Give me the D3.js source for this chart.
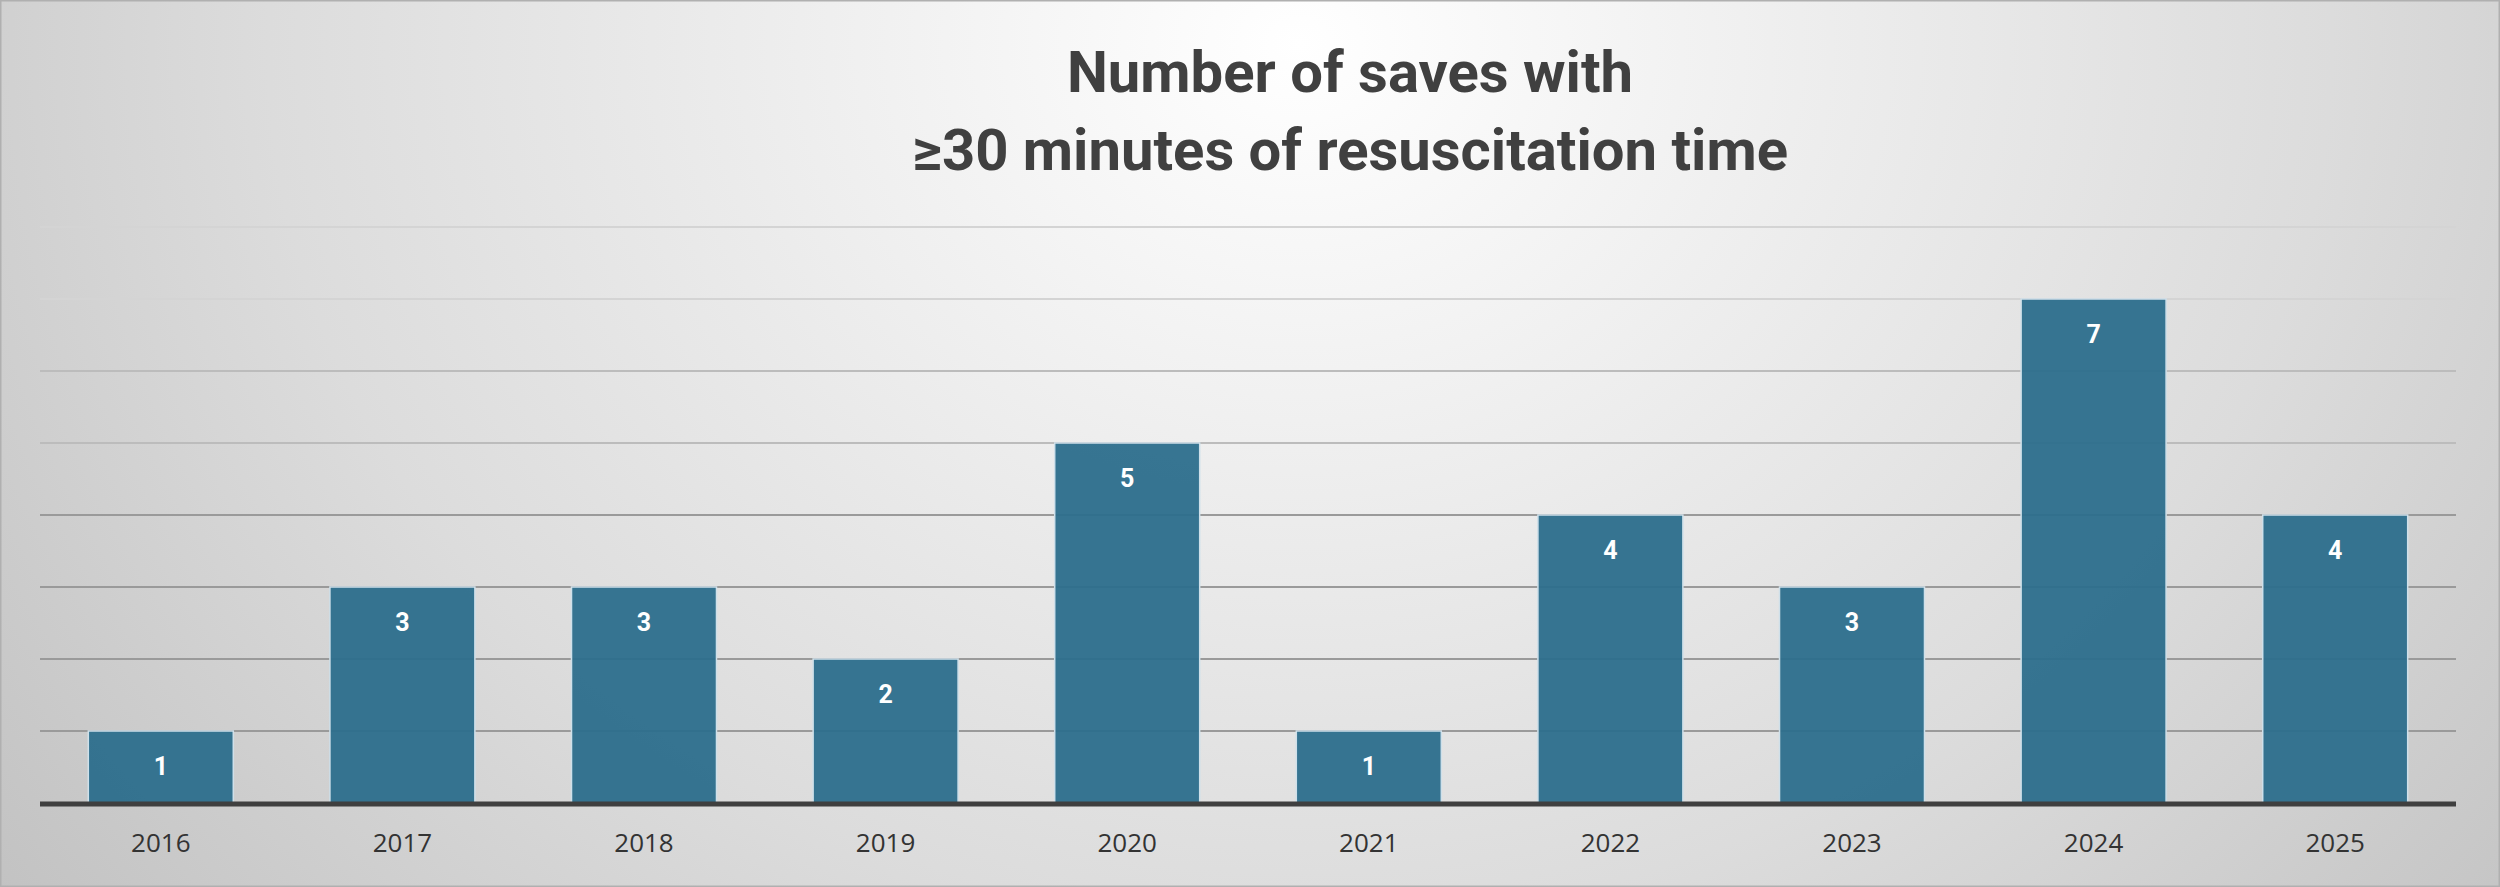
<!DOCTYPE html>
<html><head><meta charset="utf-8">
<script src="https://cdn.jsdelivr.net/npm/d3@7"></script>
<style>body{margin:0;overflow:hidden}</style></head>
<body><svg id="c" width="2500" height="887"></svg>
<script>
const years = ["2016","2017","2018","2019","2020","2021","2022","2023","2024","2025"];
const saves = [1,3,3,2,5,1,4,3,7,4];
const yTicks = [1,2,3,4,5,6,7,8];
const titleLines = ["Number of saves with","≥30 minutes of resuscitation time"];

const svg = d3.select("#c");
const defs = svg.append("defs");
const g = defs.append("radialGradient").attr("id","bg").attr("cx","0.52").attr("cy","0.05").attr("r","0.75")
  .attr("gradientTransform","translate(0.52,0.05) scale(1,2.4) translate(-0.52,-0.05)");
g.append("stop").attr("offset","0").attr("stop-color","#ffffff");
g.append("stop").attr("offset","0.55").attr("stop-color","#dcdcdc");
g.append("stop").attr("offset","1").attr("stop-color","#b8b8b8");
svg.append("rect").attr("width",2500).attr("height",887).attr("fill","url(#bg)");
svg.append("rect").attr("x",0.5).attr("y",0.5).attr("width",2499).attr("height",886).attr("fill","none").attr("stroke","#b0b0b0").attr("stroke-width",2);

const x = d3.scaleBand().domain(years).range([40,2456]).paddingInner(0.4).paddingOuter(0.2);
const y = d3.scaleLinear().domain([0,8]).range([803,227]);
const gx0 = 40, gx1 = 2456;

svg.append("g").selectAll("line").data(yTicks).join("line")
  .attr("x1",gx0).attr("x2",gx1).attr("y1",d=>y(d)).attr("y2",d=>y(d))
  .attr("stroke",d=> d>=7 ? "#d4d4d4" : (d>=5 ? "#bcbcbc" : "#9a9a9a")).attr("stroke-width",2);

svg.append("g").selectAll("rect").data(saves).join("rect")
  .attr("x",(d,i)=>x(years[i])).attr("width",x.bandwidth())
  .attr("y",d=>y(d)).attr("height",d=>y(0)-y(d))
  .attr("fill","#2c6e8c").attr("fill-opacity",0.95).attr("stroke","#cfe0ea").attr("stroke-width",1.5);

svg.append("g").selectAll("text").data(saves).join("text")
  .attr("x",(d,i)=>x(years[i])+x.bandwidth()/2).attr("y",d=>y(d)+44)
  .attr("text-anchor","middle").attr("fill","#fff").attr("font-family","Roboto, sans-serif")
  .attr("font-weight","bold").attr("font-size",25).text(d=>d);

svg.append("line").attr("x1",gx0).attr("x2",gx1).attr("y1",y(0)+1).attr("y2",y(0)+1)
  .attr("stroke","#3f3f3f").attr("stroke-width",5);

const ax = svg.append("g").attr("transform",`translate(0,${y(0)})`).call(d3.axisBottom(x).tickSize(0).tickPadding(26));
ax.select(".domain").remove();
ax.selectAll("text").attr("font-family","'Open Sans', sans-serif").attr("font-size",26).attr("fill","#333").attr("dy","0.9em");

svg.append("g").selectAll("text").data(titleLines).join("text")
  .attr("x",1350).attr("y",(d,i)=>92+i*78).attr("text-anchor","middle")
  .attr("font-family","'Liberation Sans Narrow', 'Roboto', sans-serif").attr("font-weight","bold")
  .attr("font-size",58).attr("fill","#404040").text(d=>d);
</script></body></html>
